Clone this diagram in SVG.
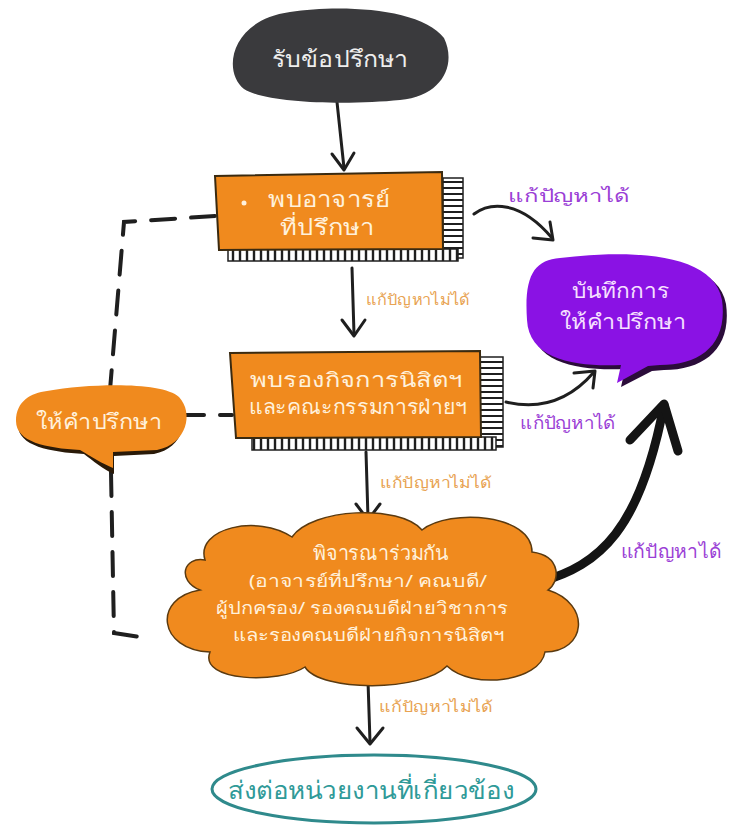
<svg xmlns="http://www.w3.org/2000/svg" width="750" height="826" viewBox="0 0 750 826">
<defs>
<style>
.t{font-family:"Noto Sans","DejaVu Sans","Liberation Sans",sans-serif;text-anchor:middle}
.w{fill:#fff1dc}
.lp{fill:#9b3fd6;font-size:18px}
.lo{fill:#e8a352;font-size:15px}
.ln{fill:none;stroke:#1f1f1f;stroke-width:3;stroke-linecap:round;stroke-linejoin:round}
.dash{fill:none;stroke:#1f1f1f;stroke-width:4;stroke-dasharray:24 16;stroke-linecap:round}
.box{fill:#f08a1e;stroke:#3a2a10;stroke-width:2}
</style>
<pattern id="hv" width="7" height="10" patternUnits="userSpaceOnUse"><rect width="7" height="10" fill="#fff"/><line x1="2" y1="0" x2="2" y2="10" stroke="#1f1f1f" stroke-width="2.4"/></pattern>
<pattern id="hh" width="10" height="6" patternUnits="userSpaceOnUse"><rect width="10" height="6" fill="#fff"/><line x1="0" y1="2" x2="10" y2="2" stroke="#1f1f1f" stroke-width="2"/></pattern>
</defs>
<rect width="750" height="826" fill="#ffffff"/>

<g id="connectors">
<path class="ln" d="M337,102 L344,168"/>
<path class="ln" d="M332,154 L344,170 L354,153"/>
<path class="ln" d="M352,268 L354,334"/>
<path class="ln" d="M342,320 L354,336 L365,320"/>
<path class="ln" d="M366,452 L368,518"/>
<path class="ln" d="M356,504 L368,520 L380,504"/>
<path class="ln" d="M368,681 L370,742"/>
<path class="ln" d="M357,728 L370,744 L383,728"/>
<path class="ln" d="M474,214 C490,202 520,200 552,238"/>
<path class="ln" d="M533,238 L553,240 L550,222"/>
<path class="ln" d="M506,402 C540,410 570,400 594,372"/>
<path class="ln" d="M574,373 L595,371 L593,388"/>
<path fill="none" stroke="#141414" stroke-width="9" stroke-linecap="round" stroke-linejoin="round" d="M540,582 C600,565 640,530 664,405"/>
<path fill="none" stroke="#141414" stroke-width="9" stroke-linecap="round" stroke-linejoin="round" d="M630,440 L664,404 L678,451"/>
<path class="dash" d="M215,216 L124,222 L110,390"/>
<path class="dash" d="M180,415 L232,415"/>
<path class="dash" d="M111,472 L114,633 L140,637"/>
<text class="t lp" x="569" y="202" textLength="122" lengthAdjust="spacingAndGlyphs">แก้ปัญหาได้</text>
<text class="t lo" x="418" y="305" textLength="104" lengthAdjust="spacingAndGlyphs">แก้ปัญหาไม่ได้</text>
<text class="t lp" x="568" y="429" textLength="96" lengthAdjust="spacingAndGlyphs">แก้ปัญหาได้</text>
<text class="t lo" x="436" y="488" textLength="112" lengthAdjust="spacingAndGlyphs">แก้ปัญหาไม่ได้</text>
<text class="t lp" x="671" y="558" style="font-size:19px" textLength="100" lengthAdjust="spacingAndGlyphs">แก้ปัญหาได้</text>
<text class="t lo" x="436" y="712" textLength="114" lengthAdjust="spacingAndGlyphs">แก้ปัญหาไม่ได้</text>
</g>

<g id="start">
<path d="M290,12 C340,4 422,8 444,38 C457,65 442,96 400,100 C350,105 268,104 244,89 C222,72 230,20 290,12 Z" fill="#3a3a3d"/>
<text class="t" x="340" y="67" fill="#eeeeee" style="font-size:23px" textLength="136" lengthAdjust="spacingAndGlyphs">รับข้อปรึกษา</text>
</g>

<g id="node-advisor">
<rect x="443" y="178" width="20" height="80" fill="url(#hh)" stroke="#1f1f1f" stroke-width="1.5"/>
<rect x="228" y="249" width="230" height="12" fill="url(#hv)" stroke="#1f1f1f" stroke-width="1.5"/>
<path class="box" d="M215,176 L442,172 L443,249 L219,250 Z"/>
<circle cx="244" cy="203" r="2.5" fill="#fff1dc"/>
<text class="t w" x="329" y="207" style="font-size:22px" textLength="122" lengthAdjust="spacingAndGlyphs">พบอาจารย์</text>
<text class="t w" x="327" y="235" style="font-size:22px" textLength="94" lengthAdjust="spacingAndGlyphs">ที่ปรึกษา</text>
</g>

<g id="node-record">
<path d="M564,262 C640,253 718,258 726,304 C732,348 705,370 664,370 L652,371 L621,387 L625,369 C580,371 533,364 531,324 C528,280 538,264 564,262 Z" fill="#2b0c3a"/>
<path d="M560,258 C636,249 714,254 722,300 C728,344 701,365 660,365 L648,366 L617,383 L621,365 C576,367 529,360 527,320 C524,276 534,260 560,258 Z" fill="#8a12e4"/>
<text class="t" x="620" y="298" fill="#f6e0ff" style="font-size:21px" textLength="97" lengthAdjust="spacingAndGlyphs">บันทึกการ</text>
<text class="t" x="623" y="329" fill="#f6e0ff" style="font-size:21px" textLength="126" lengthAdjust="spacingAndGlyphs">ให้คำปรึกษา</text>
</g>

<g id="node-deputy">
<rect x="480" y="357" width="23" height="90" fill="url(#hh)" stroke="#1f1f1f" stroke-width="1.5"/>
<rect x="252" y="437" width="244" height="13" fill="url(#hv)" stroke="#1f1f1f" stroke-width="1.5"/>
<path class="box" d="M230,353 L480,351 L481,437 L236,438 Z"/>
<text class="t w" x="356" y="387" style="font-size:20px" textLength="212" lengthAdjust="spacingAndGlyphs">พบรองกิจการนิสิตฯ</text>
<text class="t w" x="358" y="414" style="font-size:20px" textLength="218" lengthAdjust="spacingAndGlyphs">และคณะกรรมการฝ่ายฯ</text>
</g>

<g id="node-counsel">
<path d="M44,395 C90,387 160,386 176,401 C191,417 184,448 154,454 L114,456 L114,474 C104,470 92,460 84,454 C50,452 18,446 18,425 C18,405 28,397 44,395 Z" fill="#2a1a08"/>
<path d="M47,391 C93,383 163,382 179,397 C194,413 187,444 157,450 L113,452 L113,468 C103,464 90,456 80,450 C46,448 16,442 16,421 C16,401 31,393 47,391 Z" fill="#f08a1e"/>
<text class="t w" x="99" y="429" style="font-size:21px" textLength="126" lengthAdjust="spacingAndGlyphs">ให้คำปรึกษา</text>
</g>

<g id="node-joint">
<path d="M205,560 C195,528 258,514 292,537 C312,508 400,504 422,530 C450,508 532,514 532,552 C562,556 560,582 548,590 C592,604 586,652 545,652 C540,682 472,690 447,666 C422,692 320,692 305,667 C280,684 198,682 210,652 C158,650 152,598 200,590 C176,580 184,556 205,560 Z" fill="#f08a1e" stroke="#5a3a10" stroke-width="1.5"/>
<text class="t w" x="381" y="560" style="font-size:20px" textLength="136" lengthAdjust="spacingAndGlyphs">พิจารณาร่วมกัน</text>
<text class="t w" x="368" y="587" style="font-size:17px" textLength="238" lengthAdjust="spacingAndGlyphs">(อาจารย์ที่ปรึกษา/ คณบดี/</text>
<text class="t w" x="362" y="614" style="font-size:17px" textLength="292" lengthAdjust="spacingAndGlyphs">ผู้ปกครอง/ รองคณบดีฝ่ายวิชาการ</text>
<text class="t w" x="369" y="641" style="font-size:17px" textLength="272" lengthAdjust="spacingAndGlyphs">และรองคณบดีฝ่ายกิจการนิสิตฯ</text>
</g>

<g id="node-refer">
<ellipse cx="374" cy="789" rx="162" ry="34" fill="#ffffff" stroke="#2f8a8c" stroke-width="3"/>
<text class="t" x="371" y="799" fill="#2f9a98" style="font-size:25px" textLength="286" lengthAdjust="spacingAndGlyphs">ส่งต่อหน่วยงานที่เกี่ยวข้อง</text>
</g>
</svg>
